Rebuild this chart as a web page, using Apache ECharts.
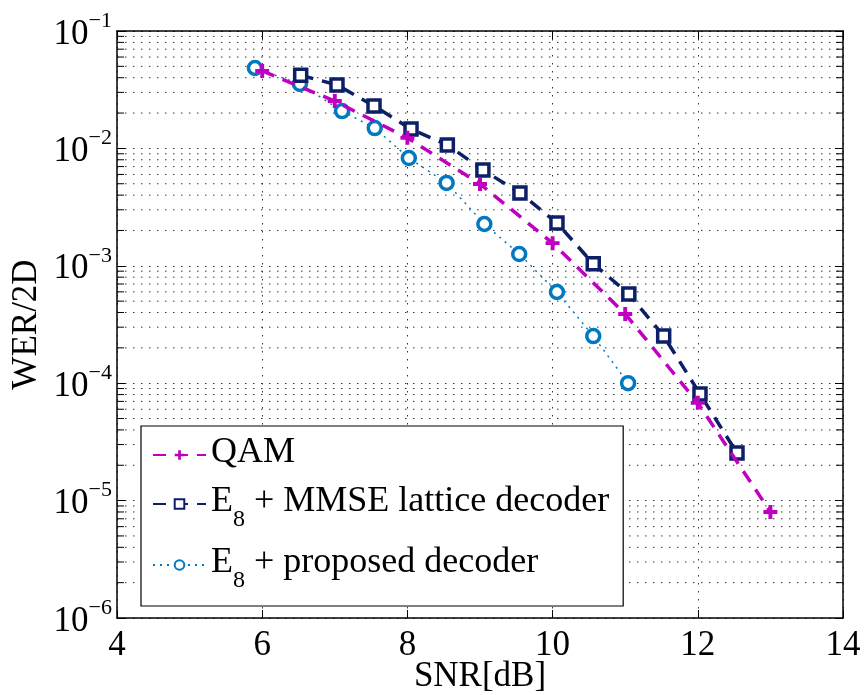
<!DOCTYPE html>
<html>
<head>
<meta charset="utf-8">
<script src="https://cdn.jsdelivr.net/npm/echarts@6/dist/echarts.min.js"></script>
<style>html,body{margin:0;padding:0;background:#fff}#c{width:865px;height:695px}</style>
</head>
<body>
<div id="c"></div>
<script>
// ---- data ----
var qamX = [6, 7, 8, 9, 10, 11, 12, 13];
var qamY = [0.0457, 0.0253, 0.0123, 0.00498, 0.00156, 0.000389, 6.8e-5, 8.0e-6];
var mmseX = [6.53, 7.03, 7.54, 8.05, 8.55, 9.04, 9.55, 10.06, 10.56, 11.05, 11.53, 12.03, 12.54];
var mmseY = [0.042, 0.0347, 0.023, 0.0146, 0.0107, 0.00655, 0.00417, 0.00232, 0.00104, 0.000575, 0.000252, 8.1e-5, 2.54e-5];
var propX = [5.9, 6.52, 7.1, 7.55, 8.02, 8.54, 9.06, 9.54, 10.06, 10.56, 11.04];
var propY = [0.0484, 0.0354, 0.0208, 0.0149, 0.00828, 0.00508, 0.00227, 0.00126, 0.000598, 0.000252, 0.0001];
var seriesNames = ['QAM', 'E8 + MMSE lattice decoder', 'E8 + proposed decoder'];
var xTicks = [4, 6, 8, 10, 12, 14];
var yDecades = [-6, -5, -4, -3, -2, -1];
var minorMult = [2, 3, 4, 5, 6, 7, 8, 9];

var FONT = 'Liberation Serif';
var minorVals = [];
for (var i = 0; i < yDecades.length - 1; i++) {
  for (var j = 0; j < minorMult.length; j++) minorVals.push([xTicks[0], minorMult[j] * Math.pow(10, yDecades[i])]);
}
function zip(xs, ys) { return xs.map(function (x, k) { return [x, ys[k]]; }); }

var gridLine = { color: '#333', width: 1, type: [1.5, 6.5] };
var chart = echarts.init(document.getElementById('c'));
var plusPath = 'path://M-1,-0.28L-0.28,-0.28L-0.28,-1L0.28,-1L0.28,-0.28L1,-0.28L1,0.28L0.28,0.28L0.28,1L-0.28,1L-0.28,0.28L-1,0.28Z';

chart.setOption({
  animation: false,
  backgroundColor: '#fff',
  grid: { left: 117, right: 22, top: 31, bottom: 77, containLabel: false, outerBoundsMode: 'none' },
  xAxis: [{
    type: 'value', min: xTicks[0], max: xTicks[xTicks.length - 1], interval: 2,
    name: 'SNR[dB]', nameLocation: 'middle', nameGap: 59, nameMoveOverlap: false,
    nameTextStyle: { fontFamily: FONT, fontSize: 35, color: '#000', verticalAlign: 'middle' },
    axisLine: { lineStyle: { color: '#000', width: 1.5 } },
    axisTick: { inside: true, length: 8, lineStyle: { color: '#000', width: 1 } },
    axisLabel: { fontFamily: FONT, fontSize: 35, color: '#000', margin: 10 },
    splitLine: { show: true, lineStyle: gridLine }
  }, {
    type: 'value', position: 'top', min: xTicks[0], max: xTicks[xTicks.length - 1], interval: 2,
    axisLine: { lineStyle: { color: '#000', width: 1.5 } },
    axisTick: { inside: true, length: 8, lineStyle: { color: '#000', width: 1 } },
    axisLabel: { show: false }, splitLine: { show: false }
  }],
  yAxis: [{
    type: 'log', logBase: 10, min: 1e-6, max: 1e-1,
    name: 'WER/2D', nameLocation: 'middle', nameGap: 90, nameMoveOverlap: false,
    nameTextStyle: { fontFamily: FONT, fontSize: 35, color: '#000', verticalAlign: 'middle' },
    axisLine: { lineStyle: { color: '#000', width: 1.5 } },
    axisTick: { inside: true, length: 8, lineStyle: { color: '#000', width: 1 } },
    axisLabel: {
      margin: 5, fontFamily: FONT, color: '#000',
      formatter: function (v) {
        var e = Math.round(Math.log10(v));
        return '{b|10}{s|' + (e < 0 ? '\u2212' : '') + Math.abs(e) + '}';
      },
      rich: {
        b: { fontFamily: FONT, fontSize: 35, color: '#000', lineHeight: 42, verticalAlign: 'bottom' },
        s: { fontFamily: FONT, fontSize: 22, color: '#000', lineHeight: 42, verticalAlign: 'top' }
      }
    },
    splitLine: { show: true, lineStyle: gridLine }
  }, {
    type: 'log', logBase: 10, min: 1e-6, max: 1e-1, position: 'right',
    axisLine: { lineStyle: { color: '#000', width: 1.5 } },
    axisTick: { inside: true, length: 8, lineStyle: { color: '#000', width: 1 } },
    axisLabel: { show: false }, splitLine: { show: false }
  }],
  legend: {
    orient: 'vertical', left: 141, top: 426,
    data: seriesNames,
    backgroundColor: '#fff', borderColor: '#000', borderWidth: 1.2,
    padding: [9, 14, 13, 11], itemGap: 13,
    itemWidth: 53, itemHeight: 12,
    formatter: function (n) {
      if (n.indexOf('E8') === 0) return '{n|E}{sub|8}{n|' + n.slice(2) + '}';
      return '{n|' + n + '}';
    },
    textStyle: {
      fontFamily: FONT, fontSize: 36, color: '#000',
      rich: {
        n: { fontFamily: FONT, fontSize: 36, color: '#000', lineHeight: 40, verticalAlign: 'top' },
        sub: { fontFamily: FONT, fontSize: 24, color: '#000', lineHeight: 20, padding: [24, 0, 0, 0], verticalAlign: 'top' }
      }
    }
  },
  series: [{
    type: 'custom', silent: true, z: 1, clip: true,
    data: minorVals,
    renderItem: function (params, api) {
      var cs = params.coordSys;
      var y = api.coord([api.value(0), api.value(1)])[1];
      var x0 = cs.x, x1 = cs.x + cs.width;
      return { type: 'group', children: [
        { type: 'line', shape: { x1: x0, y1: y, x2: x1, y2: y }, style: { stroke: '#333', lineWidth: 1, lineDash: [1.5, 6.5] } },
        { type: 'line', shape: { x1: x0, y1: y, x2: x0 + 7, y2: y }, style: { stroke: '#000', lineWidth: 1 } },
        { type: 'line', shape: { x1: x1 - 7, y1: y, x2: x1, y2: y }, style: { stroke: '#000', lineWidth: 1 } }
      ] };
    }
  }, {
    name: seriesNames[0], type: 'line', z: 5, data: zip(qamX, qamY),
    symbol: plusPath, symbolSize: 14, showAllSymbol: true,
    lineStyle: { color: '#c000c0', width: 3.5, type: [13, 9] },
    itemStyle: { color: '#c000c0' }
  }, {
    name: seriesNames[1], type: 'line', z: 4, data: zip(mmseX, mmseY),
    symbol: 'rect', symbolSize: 12, showAllSymbol: true,
    lineStyle: { color: '#0d1f66', width: 3.5, type: [13, 9] },
    itemStyle: { color: '#fff', borderColor: '#0d1f66', borderWidth: 3.5 }
  }, {
    name: seriesNames[2], type: 'line', z: 3, data: zip(propX, propY),
    symbol: 'circle', symbolSize: 13, showAllSymbol: true,
    lineStyle: { color: '#0079c1', width: 1.5, type: [2, 5] },
    itemStyle: { color: '#fff', borderColor: '#0079c1', borderWidth: 3.5 }
  }]
});
</script>
</body>
</html>
